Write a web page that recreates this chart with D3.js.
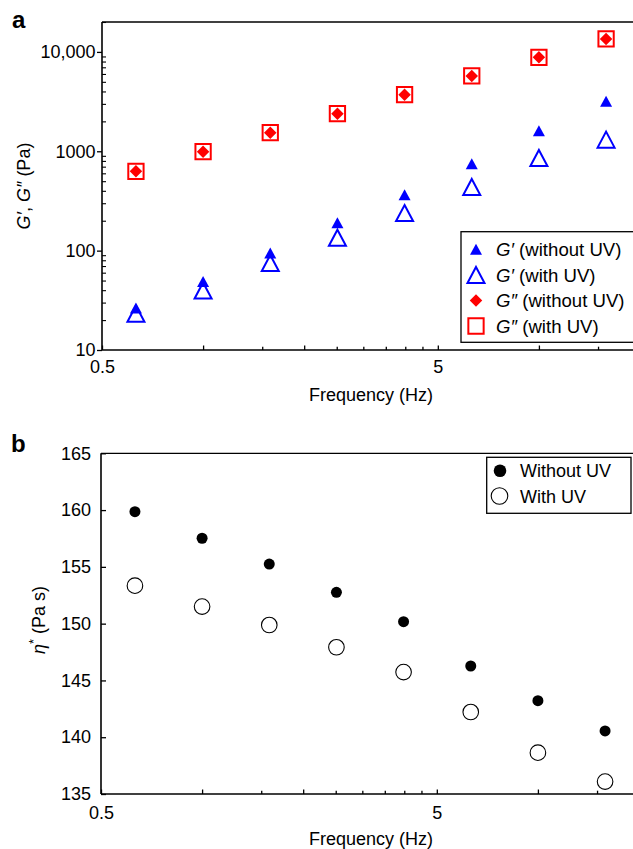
<!DOCTYPE html>
<html>
<head>
<meta charset="utf-8">
<script src="https://cdn.jsdelivr.net/npm/d3@7"></script>
<style>
  html, body { margin: 0; padding: 0; background: #fff; }
  svg { display: block; font-family: "Liberation Sans", Arial, Helvetica, sans-serif; }
</style>
</head>
<body>
<svg id="chart" width="633" height="849"></svg>
<script>
// ---------- data ----------
const frequency = [0.631, 1.0, 1.585, 2.512, 3.981, 6.31, 10.0, 15.85];

// panel a: moduli (Pa)
const gPrimeWithoutUV  = [26.4, 49.0, 94.6, 191, 366, 750, 1611, 3184];
const gPrimeWithUV     = [23.2, 39.7, 75, 135, 239, 437, 857, 1309];
const gDoubleWithoutUV = [628, 991, 1538, 2392, 3715, 5730, 8830, 13500];
const gDoubleWithUV    = [628, 991, 1538, 2392, 3715, 5730, 8830, 13500];

// panel b: complex viscosity (Pa s)
const etaWithoutUV = [159.86, 157.52, 155.25, 152.76, 150.17, 146.27, 143.22, 140.55];
const etaWithUV    = [153.34, 151.5, 149.88, 147.92, 145.74, 142.22, 138.64, 136.09];

// ticks
const xMajorTicks = [0.5, 5];
const xMinorLong  = [1, 2, 10];
const xMinorShort = [1.5, 2.5, 3, 3.5, 4, 4.5, 15];
const yTopMajor   = [10, 100, 1000, 10000];
const yTopLabels  = ["10", "100", "1000", "10,000"];
const yBottomTicks = [135, 140, 145, 150, 155, 160, 165];

// ---------- drawing ----------
const svg = d3.select("#chart");
const FONT = 18;

function triPath(w, h) {
  return `M0,${-h/2}L${w/2},${h/2}L${-w/2},${h/2}Z`;
}
function diamondPath(w, h) {
  return `M0,${-h/2}L${w/2},0L0,${h/2}L${-w/2},0Z`;
}
function squarePath(s) {
  return `M${-s/2},${-s/2}H${s/2}V${s/2}H${-s/2}Z`;
}

function drawXAxis(g, x, yPos, labelY, titleY, left) {
  const ax = g.append("g").attr("transform", `translate(0,${yPos})`);
  ax.call(d3.axisBottom(x).tickValues(xMajorTicks).tickSize(-4.5).tickFormat(d3.format("")))
    .call(a => a.select(".domain").remove());
  ax.selectAll("text").attr("font-size", FONT).attr("fill", "#000")
    .attr("y", labelY - yPos).attr("dy", 0);
  ax.selectAll("line").attr("stroke", "#000").attr("stroke-width", 1.3);
  ax.append("g").call(d3.axisBottom(x).tickValues(xMinorLong).tickSize(-4.5).tickFormat(""))
    .call(a => a.select(".domain").remove())
    .selectAll("line").attr("stroke", "#000").attr("stroke-width", 1.3);
  ax.append("g").call(d3.axisBottom(x).tickValues(xMinorShort).tickSize(-3.3).tickFormat(""))
    .call(a => a.select(".domain").remove())
    .selectAll("line").attr("stroke", "#000").attr("stroke-width", 1.3);
  ax.selectAll(".tick text").attr("font-family", "Liberation Sans, Arial, sans-serif");
  g.append("line").attr("x1", left).attr("x2", 640).attr("y1", yPos).attr("y2", yPos)
    .attr("stroke", "#000").attr("stroke-width", 1.6);
  g.append("text").attr("x", 371).attr("y", titleY).attr("text-anchor", "middle")
    .attr("font-size", FONT).text("Frequency (Hz)");
}

// ===== Panel a =====
const xA = d3.scaleLog().domain([0.5, 20]).range([102, 640]);
const yA = d3.scaleLog().domain([10, 20000]).range([350, 22]);
const gA = svg.append("g");

gA.append("text").attr("x", 12).attr("y", 28).attr("font-size", 24).attr("font-weight", "bold").text("a");

// top border
gA.append("line").attr("x1", 102).attr("x2", 640).attr("y1", 22).attr("y2", 22)
  .attr("stroke", "#000").attr("stroke-width", 1.3);

// y axis
gA.append("line").attr("x1", 102).attr("x2", 102).attr("y1", 22).attr("y2", 350)
  .attr("stroke", "#000").attr("stroke-width", 1.6);
const yAx = gA.append("g").attr("transform", "translate(102,0)");
yAx.call(d3.axisLeft(yA).tickValues(yTopMajor).tickSize(5).tickPadding(1.5)
    .tickFormat((d, i) => yTopLabels[i]))
  .call(a => a.select(".domain").remove());
yAx.selectAll("text").attr("font-size", FONT).attr("fill", "#000");
yAx.selectAll("line").attr("stroke", "#000").attr("stroke-width", 1.3);
const yMinorA = [];
[10, 100, 1000, 10000].forEach(dec => { for (let k = 2; k <= 9; k++) { const v = dec * k; if (v <= 20000) yMinorA.push(v); } });
yAx.append("g").call(d3.axisLeft(yA).tickValues(yMinorA).tickSize(-4).tickFormat(""))
  .call(a => a.select(".domain").remove())
  .selectAll("line").attr("stroke", "#000").attr("stroke-width", 1.1);

// y label
const ylA = gA.append("text").attr("transform", "translate(30,186) rotate(-90)")
  .attr("text-anchor", "middle").attr("font-size", FONT);
ylA.append("tspan").attr("font-style", "italic").text("G\u2032");
ylA.append("tspan").text(", ");
ylA.append("tspan").attr("font-style", "italic").text("G\u2033");
ylA.append("tspan").text(" (Pa)");

drawXAxis(gA, xA, 350, 372.5, 401, 102);

// marks
const BLUE = "#0000ff", RED = "#ff0000";
gA.append("g").selectAll("path").data(frequency).join("path")
  .attr("transform", (d, i) => `translate(${xA(d)},${yA(gDoubleWithUV[i])})`)
  .attr("d", squarePath(15.3)).attr("fill", "none").attr("stroke", RED).attr("stroke-width", 2);
gA.append("g").selectAll("path").data(frequency).join("path")
  .attr("transform", (d, i) => `translate(${xA(d)},${yA(gDoubleWithoutUV[i])})`)
  .attr("d", diamondPath(12.5, 12.5)).attr("fill", RED);
gA.append("g").selectAll("path").data(frequency).join("path")
  .attr("transform", (d, i) => `translate(${xA(d)},${yA(gPrimeWithUV[i])})`)
  .attr("d", triPath(17, 16)).attr("fill", "none").attr("stroke", BLUE).attr("stroke-width", 2);
gA.append("g").selectAll("path").data(frequency).join("path")
  .attr("transform", (d, i) => `translate(${xA(d)},${yA(gPrimeWithoutUV[i])})`)
  .attr("d", triPath(12, 11)).attr("fill", BLUE);

// legend a
const legA = gA.append("g");
legA.append("rect").attr("x", 461).attr("y", 231.7).attr("width", 200).attr("height", 110.6)
  .attr("fill", "#fff").attr("stroke", "#000").attr("stroke-width", 1.3);
const legAItems = [
  { y: 249.3, sym: triPath(12, 11), fill: BLUE, stroke: "none", sw: 0, lab: "G\u2032", rest: " (without UV)" },
  { y: 275,   sym: triPath(17, 16), fill: "none", stroke: BLUE, sw: 2, lab: "G\u2032", rest: " (with UV)" },
  { y: 300.5, sym: diamondPath(12.5, 12.5), fill: RED, stroke: "none", sw: 0, lab: "G\u2033", rest: " (without UV)" },
  { y: 326,   sym: squarePath(15.3), fill: "none", stroke: RED, sw: 2, lab: "G\u2033", rest: " (with UV)" }
];
legAItems.forEach(it => {
  legA.append("path").attr("transform", `translate(476,${it.y})`).attr("d", it.sym)
    .attr("fill", it.fill).attr("stroke", it.stroke).attr("stroke-width", it.sw);
  const t = legA.append("text").attr("x", 496).attr("y", it.y + 6.5).attr("font-size", 18.6);
  t.append("tspan").attr("font-style", "italic").text(it.lab);
  t.append("tspan").text(it.rest);
});

// ===== Panel b =====
const xB = d3.scaleLog().domain([0.5, 20]).range([101, 639]);
const yB = d3.scaleLinear().domain([135, 165]).range([794, 453.3]);
const gB = svg.append("g");

gB.append("text").attr("x", 11).attr("y", 452).attr("font-size", 24).attr("font-weight", "bold").text("b");

gB.append("line").attr("x1", 101).attr("x2", 640).attr("y1", 453.3).attr("y2", 453.3)
  .attr("stroke", "#000").attr("stroke-width", 1.3);
gB.append("line").attr("x1", 101).attr("x2", 101).attr("y1", 453.3).attr("y2", 794)
  .attr("stroke", "#000").attr("stroke-width", 1.6);
const yBx = gB.append("g").attr("transform", "translate(101,0)");
yBx.call(d3.axisLeft(yB).tickValues(yBottomTicks).tickSize(-5).tickPadding(10).tickFormat(d3.format("d")))
  .call(a => a.select(".domain").remove());
yBx.selectAll("text").attr("font-size", FONT).attr("fill", "#000");
yBx.selectAll("line").attr("stroke", "#000").attr("stroke-width", 1.3);

const ylB = gB.append("text").attr("transform", "translate(45,620) rotate(-90)")
  .attr("text-anchor", "middle").attr("font-size", FONT);
ylB.append("tspan").attr("font-style", "italic").text("\u03B7");
ylB.append("tspan").attr("baseline-shift", "super").attr("font-size", 13).text("*");
ylB.append("tspan").text(" (Pa s)");

drawXAxis(gB, xB, 794, 819, 845, 101);

gB.append("g").selectAll("circle").data(frequency).join("circle")
  .attr("cx", d => xB(d)).attr("cy", (d, i) => yB(etaWithUV[i])).attr("r", 7.8)
  .attr("fill", "#fff").attr("stroke", "#000").attr("stroke-width", 1.1);
gB.append("g").selectAll("circle").data(frequency).join("circle")
  .attr("cx", d => xB(d)).attr("cy", (d, i) => yB(etaWithoutUV[i])).attr("r", 5.5)
  .attr("fill", "#000");

const legB = gB.append("g");
legB.append("rect").attr("x", 486.7).attr("y", 457.3).attr("width", 144.3).attr("height", 56)
  .attr("fill", "#fff").attr("stroke", "#000").attr("stroke-width", 1.3);
legB.append("circle").attr("cx", 500).attr("cy", 470.7).attr("r", 6.3).attr("fill", "#000");
legB.append("text").attr("x", 520).attr("y", 477.2).attr("font-size", FONT).text("Without UV");
legB.append("circle").attr("cx", 499.5).attr("cy", 496).attr("r", 8.3)
  .attr("fill", "#fff").attr("stroke", "#000").attr("stroke-width", 1.1);
legB.append("text").attr("x", 520).attr("y", 502.5).attr("font-size", FONT).text("With UV");
</script>
</body>
</html>
